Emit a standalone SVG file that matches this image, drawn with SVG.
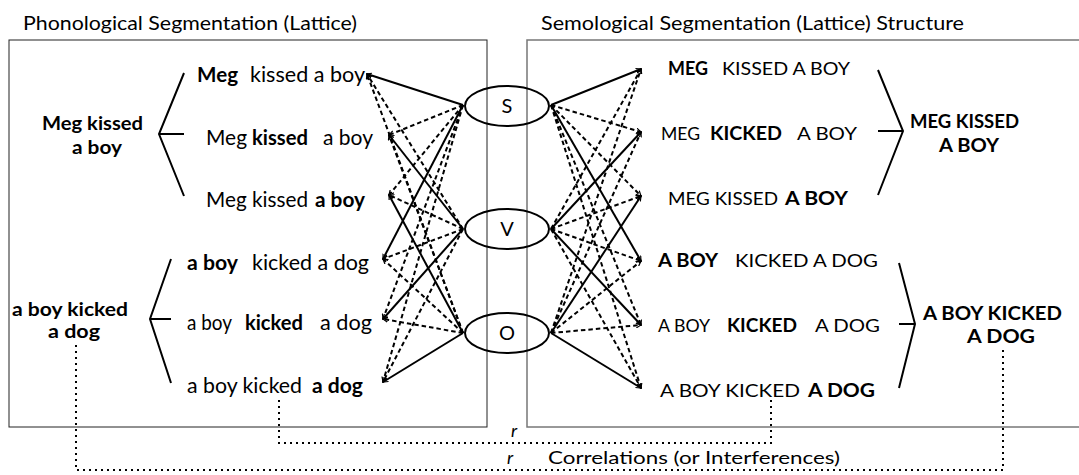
<svg xmlns="http://www.w3.org/2000/svg" width="1079" height="475" viewBox="0 0 1079 475">
<style>
text{font-family:Lato,"Liberation Sans",sans-serif;fill:#000}
.t{font-size:20px}
.p{font-size:20.5px}
.c{font-size:18px}
.b{font-weight:bold}
.lb{font-size:19.5px;font-weight:bold}
.lc{font-size:18px;font-weight:bold}
.s{stroke:#000;stroke-width:2;fill:none;marker-end:url(#ah)}
.d{stroke:#000;stroke-width:2;fill:none;stroke-dasharray:4.5 3;marker-end:url(#ah)}
.dot{stroke:#000;stroke-width:2;fill:none;stroke-dasharray:2 4}
.br{stroke:#000;stroke-width:2;fill:none}
.ov{stroke:#000;stroke-width:2;fill:none}
.sv{font-size:20px;text-anchor:middle}
</style>
<defs>
<marker id="ah" markerWidth="6" markerHeight="6" refX="5" refY="3" orient="auto" markerUnits="userSpaceOnUse">
<path d="M0,0.5 L5,3 L0,5.5" fill="none" stroke="#000" stroke-width="1.2"/>
</marker>
</defs>

<g id="titles">
<text class="t" x="23" y="30" textLength="334" lengthAdjust="spacingAndGlyphs">Phonological Segmentation (Lattice)</text>
<text class="t" x="541" y="30" textLength="423" lengthAdjust="spacingAndGlyphs">Semological Segmentation (Lattice) Structure</text>
</g>

<g id="frames">
<rect x="9" y="40" width="478" height="387" fill="none" stroke="#222" stroke-width="1"/>
<rect x="527" y="40" width="560" height="387" fill="none" stroke="#777" stroke-width="1.5"/>
</g>

<g id="connectors">
<line class="s" x1="463" y1="105" x2="367" y2="74"/>
<line class="s" x1="463" y1="229" x2="389" y2="135"/>
<line class="s" x1="463" y1="333" x2="389" y2="195"/>
<line class="s" x1="463" y1="105" x2="383" y2="259"/>
<line class="s" x1="463" y1="229" x2="383" y2="319"/>
<line class="s" x1="463" y1="333" x2="383" y2="382"/>
<line class="d" x1="463" y1="229" x2="367" y2="74"/>
<line class="d" x1="463" y1="333" x2="367" y2="74"/>
<line class="d" x1="463" y1="105" x2="389" y2="135"/>
<line class="d" x1="463" y1="333" x2="389" y2="135"/>
<line class="d" x1="463" y1="105" x2="389" y2="195"/>
<line class="d" x1="463" y1="229" x2="389" y2="195"/>
<line class="d" x1="463" y1="229" x2="383" y2="259"/>
<line class="d" x1="463" y1="333" x2="383" y2="259"/>
<line class="d" x1="463" y1="105" x2="383" y2="319"/>
<line class="d" x1="463" y1="333" x2="383" y2="319"/>
<line class="d" x1="463" y1="105" x2="383" y2="382"/>
<line class="d" x1="463" y1="229" x2="383" y2="382"/>
<line class="s" x1="551" y1="105" x2="641" y2="69"/>
<line class="s" x1="551" y1="229" x2="641" y2="132"/>
<line class="s" x1="551" y1="333" x2="641" y2="196"/>
<line class="s" x1="551" y1="105" x2="641" y2="261"/>
<line class="s" x1="551" y1="229" x2="641" y2="325"/>
<line class="s" x1="551" y1="333" x2="641" y2="388"/>
<line class="d" x1="551" y1="229" x2="641" y2="69"/>
<line class="d" x1="551" y1="333" x2="641" y2="69"/>
<line class="d" x1="551" y1="105" x2="641" y2="132"/>
<line class="d" x1="551" y1="333" x2="641" y2="132"/>
<line class="d" x1="551" y1="105" x2="641" y2="196"/>
<line class="d" x1="551" y1="229" x2="641" y2="196"/>
<line class="d" x1="551" y1="229" x2="641" y2="261"/>
<line class="d" x1="551" y1="333" x2="641" y2="261"/>
<line class="d" x1="551" y1="105" x2="641" y2="325"/>
<line class="d" x1="551" y1="333" x2="641" y2="325"/>
<line class="d" x1="551" y1="105" x2="641" y2="388"/>
<line class="d" x1="551" y1="229" x2="641" y2="388"/>
<path class="br" d="M184,73 L159,134 L184,196 M159,134 H184"/>
<path class="br" d="M171,259 L150,319 L171,383 M150,319 H171"/>
<path class="br" d="M878,70 L903,131 L878,195 M878,131 H903"/>
<path class="br" d="M899,263 L915,324 L899,388 M899,324 H915"/>
<path class="dot" d="M279,400 V443 H771 V400"/>
<path class="dot" d="M76,345 V470 H1003 V348"/>
</g>

<g id="node-S">
<ellipse class="ov" cx="507" cy="106" rx="42" ry="20"/>
<text class="sv" x="507" y="113">S</text>
</g>
<g id="node-V">
<ellipse class="ov" cx="507" cy="229" rx="42" ry="20"/>
<text class="sv" x="507" y="236">V</text>
</g>
<g id="node-O">
<ellipse class="ov" cx="507" cy="333" rx="42" ry="20"/>
<text class="sv" x="507" y="340">O</text>
</g>

<g id="phon-group-1">
<text class="lb" y="130"><tspan x="42" textLength="101" lengthAdjust="spacingAndGlyphs">Meg kissed</tspan></text>
<text class="lb" y="154"><tspan x="72" textLength="50" lengthAdjust="spacingAndGlyphs">a boy</tspan></text>
</g>
<g id="phon-group-2">
<text class="lb" y="316"><tspan x="12" textLength="116" lengthAdjust="spacingAndGlyphs">a boy kicked</tspan></text>
<text class="lb" y="338"><tspan x="48" textLength="52" lengthAdjust="spacingAndGlyphs">a dog</tspan></text>
</g>

<g id="phon-1"><text class="p" y="82"><tspan class="b" x="197" textLength="41" lengthAdjust="spacingAndGlyphs">Meg</tspan><tspan x="250" textLength="115" lengthAdjust="spacingAndGlyphs">kissed a boy</tspan></text></g>
<g id="phon-2"><text class="p" y="145"><tspan x="206" textLength="41" lengthAdjust="spacingAndGlyphs">Meg</tspan><tspan class="b" x="252" textLength="56" lengthAdjust="spacingAndGlyphs">kissed</tspan><tspan x="323" textLength="50" lengthAdjust="spacingAndGlyphs">a boy</tspan></text></g>
<g id="phon-3"><text class="p" y="207"><tspan x="206" textLength="102" lengthAdjust="spacingAndGlyphs">Meg kissed</tspan><tspan class="b" x="315" textLength="50" lengthAdjust="spacingAndGlyphs">a boy</tspan></text></g>
<g id="phon-4"><text class="p" y="270"><tspan class="b" x="187" textLength="51" lengthAdjust="spacingAndGlyphs">a boy</tspan><tspan x="252" textLength="117" lengthAdjust="spacingAndGlyphs">kicked a dog</tspan></text></g>
<g id="phon-5"><text class="p" y="330"><tspan x="187" textLength="45" lengthAdjust="spacingAndGlyphs">a boy</tspan><tspan class="b" x="245" textLength="58" lengthAdjust="spacingAndGlyphs">kicked</tspan><tspan x="320" textLength="52" lengthAdjust="spacingAndGlyphs">a dog</tspan></text></g>
<g id="phon-6"><text class="p" y="393"><tspan x="187" textLength="115" lengthAdjust="spacingAndGlyphs">a boy kicked</tspan><tspan class="b" x="312" textLength="51" lengthAdjust="spacingAndGlyphs">a dog</tspan></text></g>

<g id="sem-1"><text class="c" y="75"><tspan class="b" x="668" textLength="40" lengthAdjust="spacingAndGlyphs">MEG</tspan><tspan x="722" textLength="128" lengthAdjust="spacingAndGlyphs">KISSED A BOY</tspan></text></g>
<g id="sem-2"><text class="c" y="140"><tspan x="661" textLength="39" lengthAdjust="spacingAndGlyphs">MEG</tspan><tspan class="b" x="710" textLength="72" lengthAdjust="spacingAndGlyphs">KICKED</tspan><tspan x="797" textLength="60" lengthAdjust="spacingAndGlyphs">A BOY</tspan></text></g>
<g id="sem-3"><text class="c" y="205"><tspan x="668" textLength="110" lengthAdjust="spacingAndGlyphs">MEG KISSED</tspan><tspan class="b" x="785" textLength="63" lengthAdjust="spacingAndGlyphs">A BOY</tspan></text></g>
<g id="sem-4"><text class="c" y="267"><tspan class="b" x="658" textLength="60" lengthAdjust="spacingAndGlyphs">A BOY</tspan><tspan x="735" textLength="143" lengthAdjust="spacingAndGlyphs">KICKED A DOG</tspan></text></g>
<g id="sem-5"><text class="c" y="332"><tspan x="658" textLength="52" lengthAdjust="spacingAndGlyphs">A BOY</tspan><tspan class="b" x="727" textLength="70" lengthAdjust="spacingAndGlyphs">KICKED</tspan><tspan x="815" textLength="65" lengthAdjust="spacingAndGlyphs">A DOG</tspan></text></g>
<g id="sem-6"><text class="c" y="397"><tspan x="660" textLength="140" lengthAdjust="spacingAndGlyphs">A BOY KICKED</tspan><tspan class="b" x="808" textLength="67" lengthAdjust="spacingAndGlyphs">A DOG</tspan></text></g>

<g id="sem-group-1">
<text class="lc" y="128"><tspan x="910" textLength="109" lengthAdjust="spacingAndGlyphs">MEG KISSED</tspan></text>
<text class="lc" y="152"><tspan x="939" textLength="60" lengthAdjust="spacingAndGlyphs">A BOY</tspan></text>
</g>
<g id="sem-group-2">
<text class="lc" y="320"><tspan x="923" textLength="139" lengthAdjust="spacingAndGlyphs">A BOY KICKED</tspan></text>
<text class="lc" y="343"><tspan x="967" textLength="68" lengthAdjust="spacingAndGlyphs">A DOG</tspan></text>
</g>

<g id="correlation-labels">
<text class="c" x="511" y="437" font-style="italic">r</text>
<text class="c" x="507" y="464" font-style="italic">r</text>
<text class="c" x="548" y="464" textLength="292" lengthAdjust="spacingAndGlyphs">Correlations (or Interferences)</text>
</g>
</svg>
